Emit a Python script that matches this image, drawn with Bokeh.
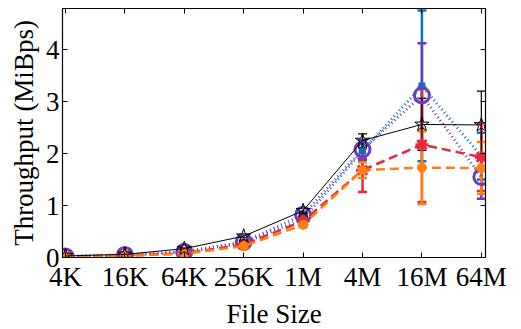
from bokeh.plotting import figure
from bokeh.models import Range1d, FixedTicker, LinearAxis, Whisker, TeeHead, ColumnDataSource
from bokeh.embed import file_html
from bokeh.resources import INLINE

sizes = ["4K", "16K", "64K", "256K", "1M", "4M", "16M", "64M"]
xs = list(range(len(sizes)))

blue = [0.02, 0.05, 0.10, 0.28, 0.74, 2.05, 3.30, 1.95]
blue_err = [0.01, 0.01, 0.02, 0.04, 0.10, 0.20, 1.45, 0.45]
purple = [0.02, 0.05, 0.11, 0.30, 0.82, 2.08, 3.12, 1.55]
purple_err = [0.01, 0.01, 0.02, 0.03, 0.06, 0.18, 1.00, 0.42]
red = [0.02, 0.04, 0.08, 0.25, 0.70, 1.68, 2.17, 1.93]
red_err = [0.01, 0.01, 0.02, 0.03, 0.06, 0.42, 1.10, 0.65]
orange = [0.02, 0.03, 0.07, 0.22, 0.63, 1.68, 1.73, 1.72]
orange_err = [0.01, 0.01, 0.02, 0.03, 0.05, 0.15, 0.70, 0.50]
black = [0.03, 0.06, 0.17, 0.41, 0.90, 2.25, 2.56, 2.55]
black_err = [0.01, 0.01, 0.02, 0.03, 0.05, 0.13, 0.50, 0.65]
y_ticks = [0, 1, 2, 3, 4]

FONT = "Liberation Serif"

p = figure(width=521, height=329, output_backend="svg", toolbar_location=None,
           x_range=Range1d(-0.05, 7.07), y_range=Range1d(0, 4.79),
           min_border_left=62, min_border_right=36, min_border_top=8, min_border_bottom=72)
p.frame_width = 423
p.frame_height = 249
p.grid.visible = False
p.outline_line_color = "black"
p.outline_line_width = 1.2
p.background_fill_color = "white"

for ax in (p.xaxis[0], p.yaxis[0]):
    ax.major_tick_in = 5
    ax.major_tick_out = 0
    ax.minor_tick_in = 0
    ax.minor_tick_out = 0
    ax.axis_line_color = "black"
    ax.major_label_text_font = FONT
    ax.major_label_text_font_size = "27px"
    ax.major_label_text_color = "black"
    ax.axis_label_text_font = FONT
    ax.axis_label_text_font_size = "27px"
    ax.axis_label_text_font_style = "normal"
    ax.axis_label_text_color = "black"

p.xaxis[0].ticker = FixedTicker(ticks=xs)
p.xaxis[0].major_label_overrides = {i: s for i, s in enumerate(sizes)}
p.xaxis[0].axis_label = "File Size"
p.xaxis[0].axis_label_standoff = 4
p.xaxis[0].major_label_standoff = 4
p.yaxis[0].ticker = FixedTicker(ticks=y_ticks)
p.yaxis[0].axis_label = "Throughput (MiBps)"
p.yaxis[0].axis_label_standoff = 4
p.yaxis[0].major_label_standoff = 3

top = LinearAxis(ticker=FixedTicker(ticks=xs), major_tick_in=5, major_tick_out=0,
                 minor_tick_in=0, minor_tick_out=0,
                 major_label_overrides={i: "" for i in xs},
                 axis_line_color="black")
right = LinearAxis(ticker=FixedTicker(ticks=y_ticks), major_tick_in=5, major_tick_out=0,
                   minor_tick_in=0, minor_tick_out=0,
                   major_label_overrides={i: "" for i in y_ticks},
                   axis_line_color="black")
p.add_layout(top, "above")
p.add_layout(right, "right")

series = [
    (blue, blue_err, "#0E6FC2", "1 3", 3, "square", 6, 1, True),
    (purple, purple_err, "#6A3DBF", "1 3", 3, "circle", 15, 3, False),
    (red, red_err, "#E8283E", "9 5", 2.5, "asterisk", 13, 3, False),
    (orange, orange_err, "#FF8011", "9 5", 2.5, "circle", 9, 1, True),
    (black, black_err, "#000000", "solid", 1, "star", 15, 1, False),
]

for vals, errs, col, dash, lw, mk, ms, mlw, filled in series:
    src = ColumnDataSource(dict(x=xs, y=vals,
                                lo=[v - e for v, e in zip(vals, errs)],
                                hi=[v + e for v, e in zip(vals, errs)]))
    p.line("x", "y", source=src, line_color=col, line_width=lw, line_dash=dash)
    ew = 2.5 if col != "#000000" else 1.2
    w = Whisker(base="x", lower="lo", upper="hi", source=src, dimension="height",
                line_color=col, line_width=ew,
                upper_head=TeeHead(size=9, line_color=col, line_width=ew),
                lower_head=TeeHead(size=9, line_color=col, line_width=ew))
    p.add_layout(w)
    p.scatter("x", "y", source=src, marker=mk, size=ms, line_color=col, line_width=mlw,
              fill_color=col if filled else None)

open("out.html", "w").write(file_html(p, INLINE))
